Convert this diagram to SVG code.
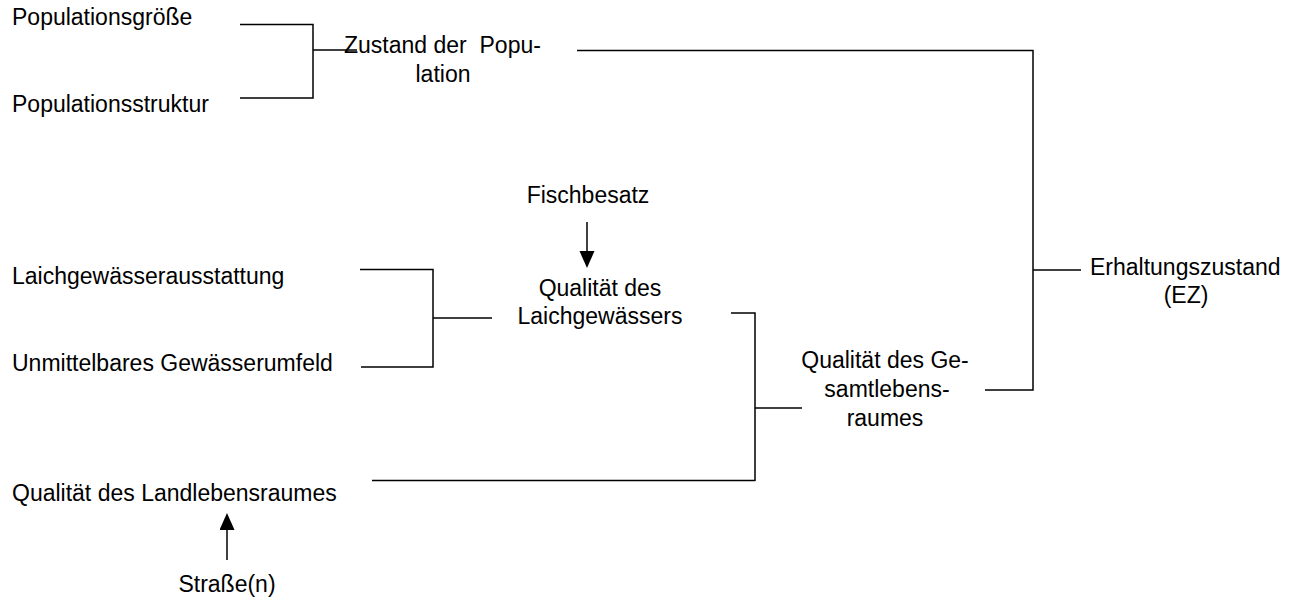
<svg xmlns="http://www.w3.org/2000/svg" width="1303" height="600" viewBox="0 0 1303 600">
<style>
.t{font-family:"Liberation Sans",Arial,sans-serif;font-size:23px;fill:#000}
.m{text-anchor:middle}
.c{fill:none;stroke:#000;stroke-width:1.5}
</style>
<defs>
<marker id="ah" markerUnits="userSpaceOnUse" markerWidth="17" markerHeight="16" refX="0" refY="7.5" orient="auto">
<path d="M0,0 L17,7.5 L0,15 z" fill="#000"/>
</marker>
</defs>
<rect width="1303" height="600" fill="#fff"/>
<g id="connectors">
<polyline class="c" points="240,24.5 313,24.5 313,98 240,98"/>
<line class="c" x1="313" y1="50" x2="357" y2="50"/>
<polyline class="c" points="577,50.5 1033,50.5 1033,390 985,390"/>
<line class="c" x1="1033" y1="270" x2="1081" y2="270"/>
<polyline class="c" points="360,269.5 433,269.5 433,367 361,367"/>
<line class="c" x1="433" y1="318" x2="492" y2="318"/>
<polyline class="c" points="731,313 755,313 755,481"/>
<line class="c" x1="755" y1="408" x2="802" y2="408"/>
<line class="c" x1="372" y1="480.5" x2="755" y2="480.5"/>
<line class="c" x1="587" y1="222" x2="587" y2="251" stroke-width="2" marker-end="url(#ah)"/>
<line class="c" x1="227" y1="560" x2="227" y2="530" stroke-width="2" marker-end="url(#ah)"/>
</g>
<g id="n-groesse"><text class="t" x="12" y="25">Populationsgröße</text></g>
<g id="n-struktur"><text class="t" x="12" y="112">Populationsstruktur</text></g>
<g id="n-zustand"><text class="t" x="344" y="53" xml:space="preserve">Zustand der  Popu-</text><text class="t m" x="443" y="82">lation</text></g>
<g id="n-ez"><text class="t" x="1090" y="275">Erhaltungszustand</text><text class="t m" x="1186" y="303">(EZ)</text></g>
<g id="n-fisch"><text class="t m" x="588" y="203">Fischbesatz</text></g>
<g id="n-laichq"><text class="t m" x="600" y="296">Qualität des</text><text class="t m" x="600" y="324">Laichgewässers</text></g>
<g id="n-ausst"><text class="t" x="12" y="284">Laichgewässerausstattung</text></g>
<g id="n-umfeld"><text class="t" x="12" y="371">Unmittelbares Gewässerumfeld</text></g>
<g id="n-gesamt"><text class="t m" x="885" y="368">Qualität des Ge-</text><text class="t m" x="887" y="397">samtlebens-</text><text class="t m" x="885" y="426">raumes</text></g>
<g id="n-land"><text class="t" x="12" y="501">Qualität des Landlebensraumes</text></g>
<g id="n-strasse"><text class="t m" x="227" y="592">Straße(n)</text></g>
</svg>
